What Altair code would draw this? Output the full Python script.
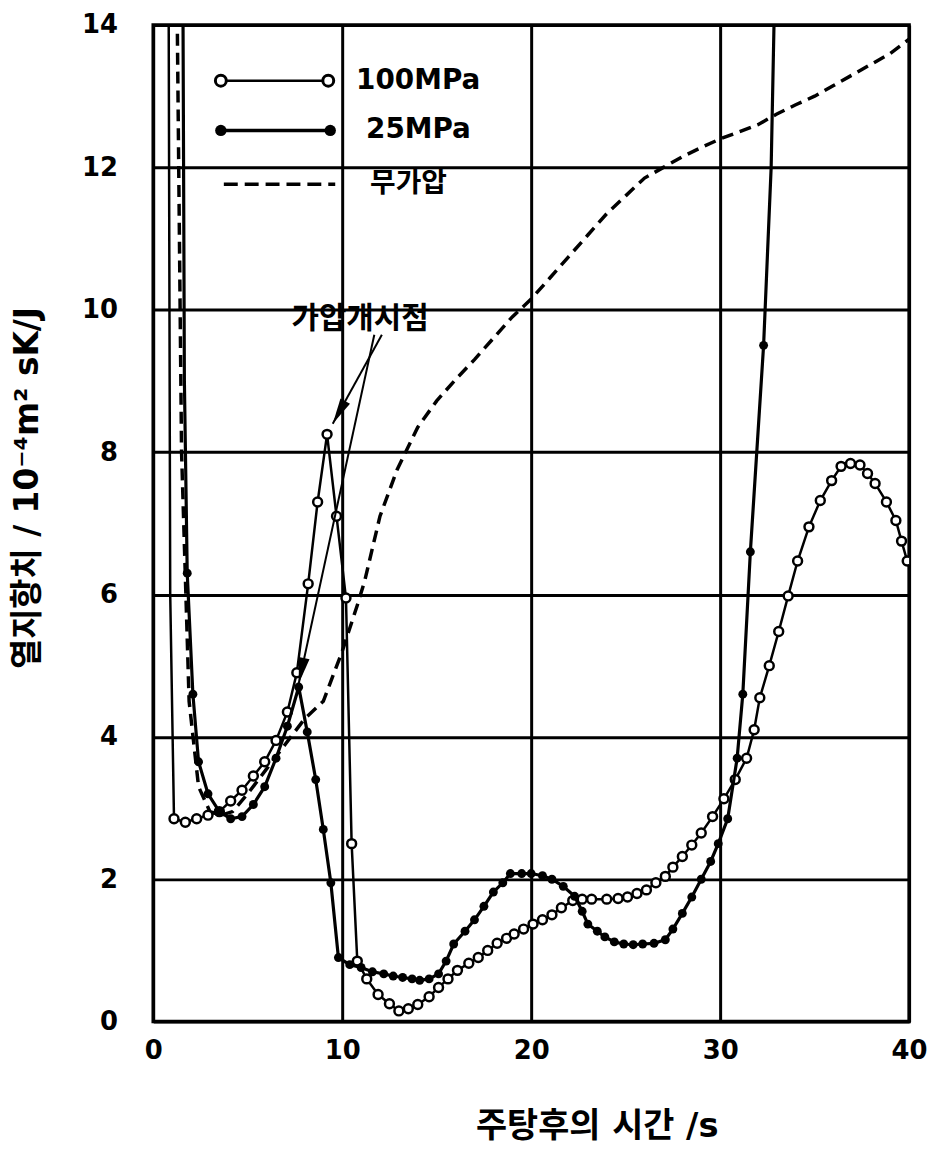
import math
import altair as alt
import pandas as pd

# ---------------- data ----------------
t100 = [0.8, 0.9, 1.1, 1.7, 2.3, 2.9, 3.5, 4.1, 4.7, 5.3,
        5.9, 6.5, 7.1, 7.6, 8.2, 8.7, 9.2, 9.7, 10.2, 10.5,
        10.8, 11.3, 11.9, 12.5, 13.0, 13.5, 14.0, 14.6, 15.1, 15.6,
        16.1, 16.7, 17.2, 17.7, 18.2, 18.7, 19.1, 19.6, 20.1, 20.6,
        21.1, 21.6, 22.2, 22.7, 23.2, 24.0, 24.6, 25.1, 25.6, 26.1,
        26.6, 27.1, 27.5, 28.0, 28.5, 29.0, 29.6, 30.2, 30.8, 31.4,
        31.8, 32.1, 32.6, 33.1, 33.6, 34.1, 34.7, 35.3, 35.9, 36.4,
        36.9, 37.4, 37.8, 38.2, 38.8, 39.3, 39.6, 39.9]
r100 = [16, 6, 2.85, 2.8, 2.85, 2.9, 2.95, 3.1, 3.25, 3.45,
        3.65, 3.95, 4.35, 4.9, 6.15, 7.3, 8.25, 7.1, 5.95, 2.5,
        0.85, 0.6, 0.38, 0.25, 0.15, 0.18, 0.24, 0.35, 0.48, 0.6,
        0.72, 0.82, 0.9, 1.0, 1.1, 1.17, 1.23, 1.3, 1.37, 1.43,
        1.5, 1.6, 1.7, 1.72, 1.72, 1.72, 1.73, 1.75, 1.8, 1.85,
        1.95, 2.04, 2.17, 2.32, 2.48, 2.65, 2.88, 3.13, 3.4, 3.7,
        4.1, 4.55, 5.0, 5.48, 5.98, 6.47, 6.95, 7.32, 7.6, 7.8,
        7.84, 7.82, 7.7, 7.56, 7.3, 7.04, 6.75, 6.47]

t25 = [1.55, 1.65, 1.8, 2.1, 2.4, 2.9, 3.5, 4.1, 4.7, 5.3,
       5.9, 6.5, 7.1, 7.7, 8.15, 8.6, 9.0, 9.4, 9.8, 10.4,
       11.0, 11.6, 12.2, 12.7, 13.2, 13.7, 14.1, 14.6, 15.1, 15.5,
       15.9, 16.5, 17.0, 17.5, 18.0, 18.5, 18.9, 19.5, 20.0, 20.6,
       21.1, 21.7, 22.3, 22.7, 23.0, 23.5, 23.9, 24.4, 24.9, 25.4,
       25.9, 26.5, 27.1, 27.5, 28.0, 28.5, 29.0, 29.5, 29.9, 30.4,
       30.9, 31.2, 31.6, 32.3, 32.7, 33.0]
r25 = [16, 9, 6.3, 4.6, 3.65, 3.2, 2.95, 2.85, 2.88, 3.05,
       3.3, 3.7, 4.15, 4.7, 4.07, 3.4, 2.7, 1.95, 0.9, 0.8,
       0.76, 0.7, 0.67, 0.64, 0.62, 0.6, 0.58, 0.6, 0.67, 0.85,
       1.09, 1.27, 1.43, 1.62, 1.82, 1.95, 2.08, 2.08, 2.08, 2.05,
       2.0, 1.9, 1.76, 1.55, 1.37, 1.27, 1.19, 1.12, 1.09, 1.08,
       1.09, 1.1, 1.15, 1.3, 1.52, 1.75, 2.0, 2.25, 2.5, 2.85,
       3.7, 4.6, 6.6, 9.5, 12, 16]

t0 = [1.2, 1.5, 1.9, 2.4, 3.0, 3.6, 4.2, 5.0, 6.0, 7.0,
      8.0, 9.0, 10.0, 10.8, 11.2, 12.0, 12.9, 14.0, 15.0, 16.0,
      17.0, 18.0, 19.0, 20.0, 21.0, 22.0, 23.0, 24.0, 25.0, 26.0,
      27.0, 28.0, 29.0, 30.0, 31.0, 32.0, 33.0, 34.0, 35.0, 36.0,
      37.0, 38.0, 39.0, 40.0]
r0 = [16, 8, 4.5, 3.3, 2.95, 2.9, 2.95, 3.2, 3.55, 3.9,
      4.25, 4.5, 5.2, 5.85, 6.2, 7.1, 7.75, 8.35, 8.72, 9.02,
      9.3, 9.6, 9.9, 10.15, 10.45, 10.75, 11.05, 11.35, 11.6, 11.85,
      12.0, 12.15, 12.28, 12.4, 12.5, 12.6, 12.75, 12.88, 13.0, 13.15,
      13.3, 13.45, 13.6, 13.8]

series_names = ["100MPa", "25MPa", "무가압"]
x_ticks = [0, 10, 20, 30, 40]
y_ticks = [0, 2, 4, 6, 8, 10, 12, 14]
x_title = "주탕후의  시간 /s"
y_title = "열지항치 / 10⁻⁴m² sK/J"
note_text = "가압개시점"
# arrows of the note: start point and tip, in data units
arrow_start = [(12.1, 9.65), (11.7, 9.65)]
arrow_tip = [(9.5, 8.4), (7.7, 4.75)]

# ---------------- styling ----------------
FONT = "DejaVu Sans, Noto Sans CJK KR"
W, H = 760, 1002
XMAX, YMAX = 40, 14

df100 = pd.DataFrame({"t": t100, "r": r100})
df25 = pd.DataFrame({"t": t25, "r": r25})
df0 = pd.DataFrame({"t": t0, "r": r0})

xs = alt.Scale(domain=[0, XMAX], nice=False, zero=False)
ys = alt.Scale(domain=[0, YMAX], nice=False, zero=False)

x_axis = alt.Axis(values=x_ticks, grid=True, title=x_title, labelFont=FONT,
                  labelFontSize=26, labelFontWeight="bold", labelColor="black",
                  labelPadding=16, labelFlush=False, titleFont=FONT,
                  titleFontSize=34, titleFontWeight="bold", titleColor="black",
                  titleX=446, titleY=106, titleBaseline="middle")
y_axis = alt.Axis(values=y_ticks, grid=True, title=y_title, labelFont=FONT,
                  labelFontSize=26, labelFontWeight="bold", labelColor="black",
                  labelPadding=36, titleFont=FONT, titleFontSize=33,
                  titleFontWeight="bold", titleColor="black",
                  titleX=-126, titleY=465, titleBaseline="middle")

X = alt.X("t:Q", scale=xs, axis=x_axis)
Y = alt.Y("r:Q", scale=ys, axis=y_axis)

l100 = alt.Chart(df100).mark_line(color="black", strokeWidth=2.5, clip=True).encode(x=X, y=Y)
p100 = alt.Chart(df100.iloc[2:]).mark_point(shape="circle", size=80, filled=True,
                                            fill="white", stroke="black",
                                            strokeWidth=2.5, opacity=1,
                                            clip=True).encode(x=X, y=Y)

l25 = alt.Chart(df25).mark_line(color="black", strokeWidth=3.2, clip=True).encode(x=X, y=Y)
p25 = alt.Chart(df25.iloc[2:-2]).mark_point(shape="circle", size=80, filled=True,
                                            color="black", opacity=1,
                                            clip=True).encode(x=X, y=Y)

l0 = alt.Chart(df0).mark_line(color="black", strokeWidth=3.5, strokeDash=[12, 7],
                              clip=True).encode(x=X, y=Y)

# ---------------- note with arrows ----------------
sx = W / XMAX
sy = H / YMAX
rows = []
for (x1, y1), (x2, y2) in zip(arrow_start, arrow_tip):
    dxp = (x2 - x1) * sx
    dyp = -(y2 - y1) * sy
    L = math.hypot(dxp, dyp)
    ux, uy = dxp / L, dyp / L
    back = 13
    rows.append({"x1": x1, "y1": y1, "x2": x2, "y2": y2,
                 "cx": x2 - back * ux / sx, "cy": y2 + back * uy / sy,
                 "ang": math.degrees(math.atan2(ux, -uy)) % 360})
arr = pd.DataFrame(rows)

arrow_lines = alt.Chart(arr).mark_rule(color="black", strokeWidth=2).encode(
    x=alt.X("x1:Q", scale=xs, axis=x_axis), y=alt.Y("y1:Q", scale=ys, axis=y_axis),
    x2="x2:Q", y2="y2:Q")
heads = []
for _, row in arr.iterrows():
    heads.append(alt.Chart(pd.DataFrame([row])).mark_point(
        shape="M0,-1L0.42,1L-0.42,1Z", size=676, filled=True, color="black",
        opacity=1, angle=float(row["ang"])).encode(
        x=alt.X("cx:Q", scale=xs, axis=x_axis), y=alt.Y("cy:Q", scale=ys, axis=y_axis)))

one = pd.DataFrame({"a": [0]})
note = alt.Chart(one).mark_text(text=note_text, font=FONT, fontSize=30,
                                fontWeight="bold", color="black", align="center",
                                baseline="middle").encode(
    x=alt.value(208), y=alt.value(296))

# ---------------- manual legend (pixel positions in plot area) ----------------
leg = []
rows_y = [56, 106, 160]
line_x = [(68, 176), (68, 178), (71, 183)]
text_x = [204, 214, 218]
for i, name in enumerate(series_names):
    yv = rows_y[i]
    xa, xb = line_x[i]
    mk = dict(color="black", strokeWidth=2.5 if i == 0 else 3.5)
    if i == 2:
        mk["strokeDash"] = [14, 7]
    leg.append(alt.Chart(one).mark_rule(**mk).encode(
        x=alt.value(xa), x2=alt.value(xb), y=alt.value(yv)))
    if i == 0:
        for xv in (xa, xb):
            leg.append(alt.Chart(one).mark_point(shape="circle", size=120, filled=True,
                                                 fill="white", stroke="black",
                                                 strokeWidth=3, opacity=1).encode(
                x=alt.value(xv), y=alt.value(yv)))
    if i == 1:
        for xv in (xa, xb):
            leg.append(alt.Chart(one).mark_point(shape="circle", size=130, filled=True,
                                                 color="black", opacity=1).encode(
                x=alt.value(xv), y=alt.value(yv)))
    leg.append(alt.Chart(one).mark_text(text=name, font=FONT, fontSize=28,
                                        fontWeight="bold", color="black",
                                        align="left", baseline="middle").encode(
        x=alt.value(text_x[i]), y=alt.value(yv)))

chart = alt.layer(l0, l100, p100, l25, p25, arrow_lines, *heads, note, *leg).properties(
    width=W, height=H,
    autosize=alt.AutoSizeParams(type="none"),
    padding={"left": 146, "top": 14, "right": 20, "bottom": 130},
    background="white",
).configure_view(stroke="black", strokeWidth=3.5).configure_axis(
    domain=False, ticks=False, gridColor="black", gridWidth=3, gridOpacity=1)

chart.save("out.html", embed_options={"renderer": "svg", "actions": False})
